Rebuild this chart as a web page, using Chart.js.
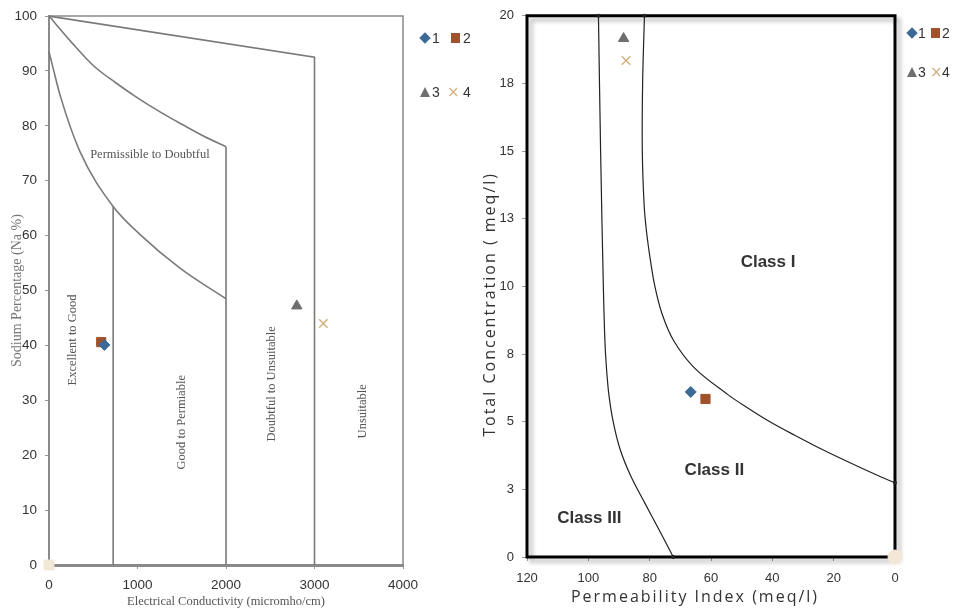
<!DOCTYPE html>
<html>
<head>
<meta charset="utf-8">
<title>Wilcox and Doneen classification</title>
<script src="https://cdn.jsdelivr.net/npm/chart.js@4.4.1/dist/chart.umd.min.js"></script>
<style>
  html, body { margin: 0; padding: 0; background: #fff; }
  body { position: relative; width: 977px; height: 610px; overflow: hidden; }
  canvas { position: absolute; top: 0; }
  #wilcox { left: 0; }
  #doneen { left: 475px; }
  .lg { position: absolute; font: 14px 'Liberation Sans', Arial, sans-serif; color: #333; line-height: 14px; }
  .mk { position: absolute; }
  .dia { width: 8px; height: 8px; background: #3b6a96; transform: rotate(45deg); }
  .sq { width: 9px; height: 10px; background: #a0522d; }
  .tri { width: 0; height: 0; border-left: 5px solid transparent; border-right: 5px solid transparent; border-bottom: 10px solid #6e6e6e; }
  .crs { color: #d2b27e; font: 15px 'DejaVu Sans', sans-serif; line-height: 14px; }
</style>
</head>
<body>
<canvas id="wilcox" width="480" height="610"></canvas>
<canvas id="doneen" width="502" height="610"></canvas>

<!-- legend, Wilcox panel -->
<div class="mk dia" style="left:421px;top:34px"></div><div class="lg" style="left:432px;top:31px">1</div>
<div class="mk sq" style="left:451px;top:33px"></div><div class="lg" style="left:463px;top:31px">2</div>
<div class="mk tri" style="left:420px;top:87px"></div><div class="lg" style="left:432px;top:85px">3</div>
<div class="mk crs" style="left:447px;top:85px">×</div><div class="lg" style="left:463px;top:85px">4</div>

<!-- legend, Doneen panel -->
<div class="mk dia" style="left:908px;top:29px"></div><div class="lg" style="left:918px;top:26px">1</div>
<div class="mk sq" style="left:931px;top:28px"></div><div class="lg" style="left:942px;top:26px">2</div>
<div class="mk tri" style="left:907px;top:67px"></div><div class="lg" style="left:918px;top:65px">3</div>
<div class="mk crs" style="left:930px;top:65px">×</div><div class="lg" style="left:942px;top:65px">4</div>

<script>
// ---------- Wilcox diagram data ----------
const sampleIds = ['1', '2', '3', '4'];
const ecSamples = [625, 590, 2800, 3100];          // micromho/cm
const naSamples = [40.1, 40.6, 47.2, 44.0];        // Na %

const limitTopEC = [0, 3000, 3000];
const limitTopNa = [100, 92.5, 0];
const limitMidEC = [0, 250, 500, 750, 1000, 1250, 1500, 1750, 2000];
const limitMidNa = [100, 95.3, 91.0, 87.9, 85.1, 82.6, 80.3, 78.1, 76.2];
const limitLowEC = [0, 50, 125, 350, 725, 1030, 1480, 2000];
const limitLowNa = [93.5, 90.3, 85.6, 75.3, 65.3, 60.2, 54.1, 48.5];
const dividerEC = [725, 2000];
const dividerTopNa = [65.3, 76.2];

// ---------- Doneen permeability index data ----------
const piSamples = [66.6, 61.8, 88.5, 87.7];        // meq/l
const tcSamples = [6.1, 5.84, 19.16, 18.35];       // meq/l

const class3PI = [96.7, 96.0, 95.1, 94.6, 94.1, 93.3, 91.9, 89.7, 86.2, 81.6, 76.9, 72.3];
const class3TC = [20, 15, 10, 8, 7, 6, 5, 4, 3, 2, 1, 0];
const class1PI = [81.7, 82.3, 82.4, 81.8, 81.0, 79.8, 78.3, 76.0, 72.2, 65.5, 54.5, 47.9, 40.8, 32.7, 24.2, 15.0, 5.4, 0];
const class1TC = [20, 17.5, 15, 13, 12, 11, 10, 9, 8, 7, 6, 5.5, 5, 4.5, 4, 3.5, 3, 2.74];

const tcTickLabels = ['0', '3', '5', '8', '10', '13', '15', '18', '20'];

// ---------- styling ----------
const TICKFONT = "'Liberation Sans', Arial, sans-serif";
const SERIF = "'Liberation Serif', 'Times New Roman', serif";
const SANS = "'Open Sans', 'Liberation Sans', sans-serif";
const C_DIA = '#3b6a96', C_SQ = '#a0522d', C_TRI = '#6e6e6e', C_X = '#d2b27e', C_PALE = '#f3e7d6';

const pts = (xs, ys) => xs.map((x, i) => ({ x, y: ys[i] }));

function sampleSets(xs, ys) {
  const styles = [
    { pointStyle: 'rectRot', c: C_DIA, rad: 5.5 },
    { pointStyle: 'rect', c: C_SQ, rad: 6.5 },
    { pointStyle: 'triangle', c: C_TRI, rad: 6 },
    { pointStyle: 'crossRot', c: C_X, rad: 6 }
  ];
  return sampleIds.map((id, i) => ({
    label: id,
    data: [{ x: xs[i], y: ys[i] }],
    pointStyle: styles[i].pointStyle,
    pointRadius: styles[i].rad,
    backgroundColor: styles[i].c,
    borderColor: styles[i].c,
    borderWidth: i === 3 ? 1.5 : 1,
    clip: false
  }));
}

function lineSet(data, color, width, smooth, ends) {
  const ds = {
    type: 'line', data, showLine: true, borderColor: color, borderWidth: width,
    fill: false, clip: false, tension: 0,
    pointRadius: ends ? data.map((_, i) => (i === 0 || i === data.length - 1) ? 2 : 0) : 0,
    pointBackgroundColor: color, pointBorderWidth: 0
  };
  if (smooth === 'monotone') ds.cubicInterpolationMode = 'monotone';
  else if (smooth) ds.tension = smooth;
  return ds;
}

// frame around the plotting area
const framePlugin = {
  id: 'frame',
  beforeDatasetsDraw(chart, args, o) {
    const { ctx, chartArea: a } = chart;
    ctx.save();
    if (o.shadow) {
      ctx.shadowColor = 'rgba(0,0,0,0.28)';
      ctx.shadowBlur = 4;
      ctx.shadowOffsetX = 4;
      ctx.shadowOffsetY = 4;
    }
    ctx.strokeStyle = o.color;
    ctx.lineWidth = o.width;
    ctx.beginPath();
    if (o.sides === 'all') {
      ctx.rect(a.left, a.top, a.right - a.left, a.bottom - a.top);
    } else {
      ctx.moveTo(a.left, a.top);
      ctx.lineTo(a.right, a.top);
      ctx.lineTo(a.right, a.bottom);
    }
    ctx.stroke();
    ctx.restore();
  }
};

// zone captions placed in data coordinates
const zonePlugin = {
  id: 'zones',
  afterDatasetsDraw(chart, args, o) {
    const { ctx, scales } = chart;
    ctx.save();
    ctx.fillStyle = o.color;
    ctx.font = o.font;
    ctx.textAlign = 'center';
    ctx.textBaseline = 'middle';
    o.items.forEach(it => {
      const px = scales.x.getPixelForValue(it.x);
      const py = scales.y.getPixelForValue(it.y);
      ctx.save();
      ctx.translate(px, py);
      if (it.rot) ctx.rotate(-Math.PI / 2);
      ctx.fillText(it.text, 0, 0);
      ctx.restore();
    });
    ctx.restore();
  }
};

// letter-spaced axis titles, placed relative to the plotting area
const spacedTitlePlugin = {
  id: 'spacedTitles',
  afterDraw(chart, args, o) {
    if (!o.x) return;
    const { ctx, chartArea: a } = chart;
    ctx.save();
    ctx.fillStyle = o.color;
    ctx.font = o.font;
    ctx.letterSpacing = o.spacing;
    ctx.textAlign = 'center';
    ctx.textBaseline = 'middle';
    ctx.fillText(o.x.text, (a.left + a.right) / 2 + o.x.dx, a.bottom + o.x.dy);
    ctx.translate(a.left + o.y.dx, (a.top + a.bottom) / 2 + o.y.dy);
    ctx.rotate(-Math.PI / 2);
    ctx.fillText(o.y.text, 0, 0);
    ctx.restore();
  }
};

Chart.register(framePlugin, zonePlugin, spacedTitlePlugin);

const wilcoxZones = [
  { text: 'Permissible to Doubtful', x: 1140, y: 74.8 },
  { text: 'Excellent to Good', x: 270, y: 41, rot: true },
  { text: 'Good to Permiable', x: 1500, y: 26, rot: true },
  { text: 'Doubtful to Unsuitable', x: 2520, y: 33, rot: true },
  { text: 'Unsuitable', x: 3550, y: 28, rot: true }
];

const doneenZones = [
  { text: 'Class I', x: 41.4, y: 10.9 },
  { text: 'Class II', x: 58.9, y: 3.19 },
  { text: 'Class III', x: 99.7, y: 1.44 }
];

const GRAY = '#7a7a7a';

new Chart(document.getElementById('wilcox'), {
  type: 'scatter',
  data: {
    datasets: [
      lineSet(pts(limitTopEC, limitTopNa), GRAY, 1.6, 0),
      lineSet(pts(limitMidEC, limitMidNa), GRAY, 1.6, 'monotone'),
      lineSet(pts(limitLowEC, limitLowNa), GRAY, 1.6, 'monotone'),
      lineSet([{ x: dividerEC[0], y: dividerTopNa[0] }, { x: dividerEC[0], y: 0 }], GRAY, 1.6, 0),
      lineSet([{ x: dividerEC[1], y: dividerTopNa[1] }, { x: dividerEC[1], y: 0 }], GRAY, 1.6, 0),
      { label: 'origin', data: [{ x: 0, y: 0 }], pointStyle: 'rect', pointRadius: 7, backgroundColor: C_PALE, borderColor: C_PALE, clip: false },
      ...sampleSets(ecSamples, naSamples)
    ]
  },
  options: {
    responsive: false, animation: false, devicePixelRatio: 1,
    layout: { padding: { top: 14, right: 77, left: 0, bottom: 0 } },
    plugins: {
      legend: { display: false }, tooltip: { enabled: false },
      frame: { color: '#8a8a8a', width: 1.5, sides: 'tr' },
      zones: { items: wilcoxZones, color: '#555', font: "12.5px " + SERIF }
    },
    scales: {
      x: {
        type: 'linear', min: 0, max: 4000,
        ticks: { stepSize: 1000, color: '#333', font: { family: TICKFONT, size: 13.5 }, padding: 8,
                 callback: v => String(v) },
        grid: { drawOnChartArea: false, tickLength: 4, color: '#999' },
        border: { color: '#8a8a8a', width: 3 },
        title: { display: true, text: 'Electrical Conductivity (micromho/cm)', color: '#555', font: { family: SERIF, size: 12.5 }, padding: { top: 0, bottom: 1 } },
        afterFit(s) { s.height = 45; }
      },
      y: {
        type: 'linear', min: 0, max: 100,
        ticks: { stepSize: 10, color: '#333', font: { family: TICKFONT, size: 13.5 }, padding: 8 },
        grid: { drawOnChartArea: false, tickLength: 4, color: '#999' },
        border: { color: '#8a8a8a', width: 2 },
        title: { display: true, text: 'Sodium Percentage (Na %)', color: '#777', font: { family: SERIF, size: 14 }, padding: { top: 9, bottom: 0 } },
        afterFit(s) { s.width = 49; }
      }
    }
  }
});

new Chart(document.getElementById('doneen'), {
  type: 'scatter',
  data: {
    datasets: [
      lineSet(pts(class3PI, class3TC), '#222', 1.2, 0.35, true),
      lineSet(pts(class1PI, class1TC), '#222', 1.2, 0.35, true),
      { label: 'origin', data: [{ x: 0, y: 0 }], pointStyle: 'circle', pointRadius: 7, backgroundColor: C_PALE, borderColor: C_PALE, clip: false },
      ...sampleSets(piSamples, tcSamples)
    ]
  },
  options: {
    responsive: false, animation: false, devicePixelRatio: 1,
    layout: { padding: { top: 10, right: 82, left: 0, bottom: 0 } },
    plugins: {
      legend: { display: false }, tooltip: { enabled: false },
      frame: { color: '#000', width: 3, sides: 'all', shadow: true },
      zones: { items: doneenZones, color: '#333', font: "bold 17px 'Liberation Sans', Arial, sans-serif" },
      spacedTitles: {
        color: '#333', font: "16px " + SANS, spacing: '2px',
        x: { text: 'Permeability Index (meq/l)', dx: -16, dy: 40 },
        y: { text: 'Total Concentration ( meq/l)', dx: -37, dy: 18 }
      }
    },
    scales: {
      x: {
        type: 'linear', min: 0, max: 120, reverse: true,
        ticks: { stepSize: 20, color: '#333', font: { family: TICKFONT, size: 13 }, padding: 10 },
        grid: { drawOnChartArea: false, tickLength: 4, color: '#999' },
        border: { display: false },
        afterFit(s) { s.height = 53; }
      },
      y: {
        type: 'linear', min: 0, max: 20,
        ticks: { stepSize: 2.5, color: '#333', font: { family: TICKFONT, size: 13 }, padding: 8,
                 callback: (v, i) => tcTickLabels[i] },
        grid: { drawOnChartArea: false, tickLength: 5, color: '#999' },
        border: { display: false },
        afterFit(s) { s.width = 52; }
      }
    }
  }
});
</script>
</body>
</html>
